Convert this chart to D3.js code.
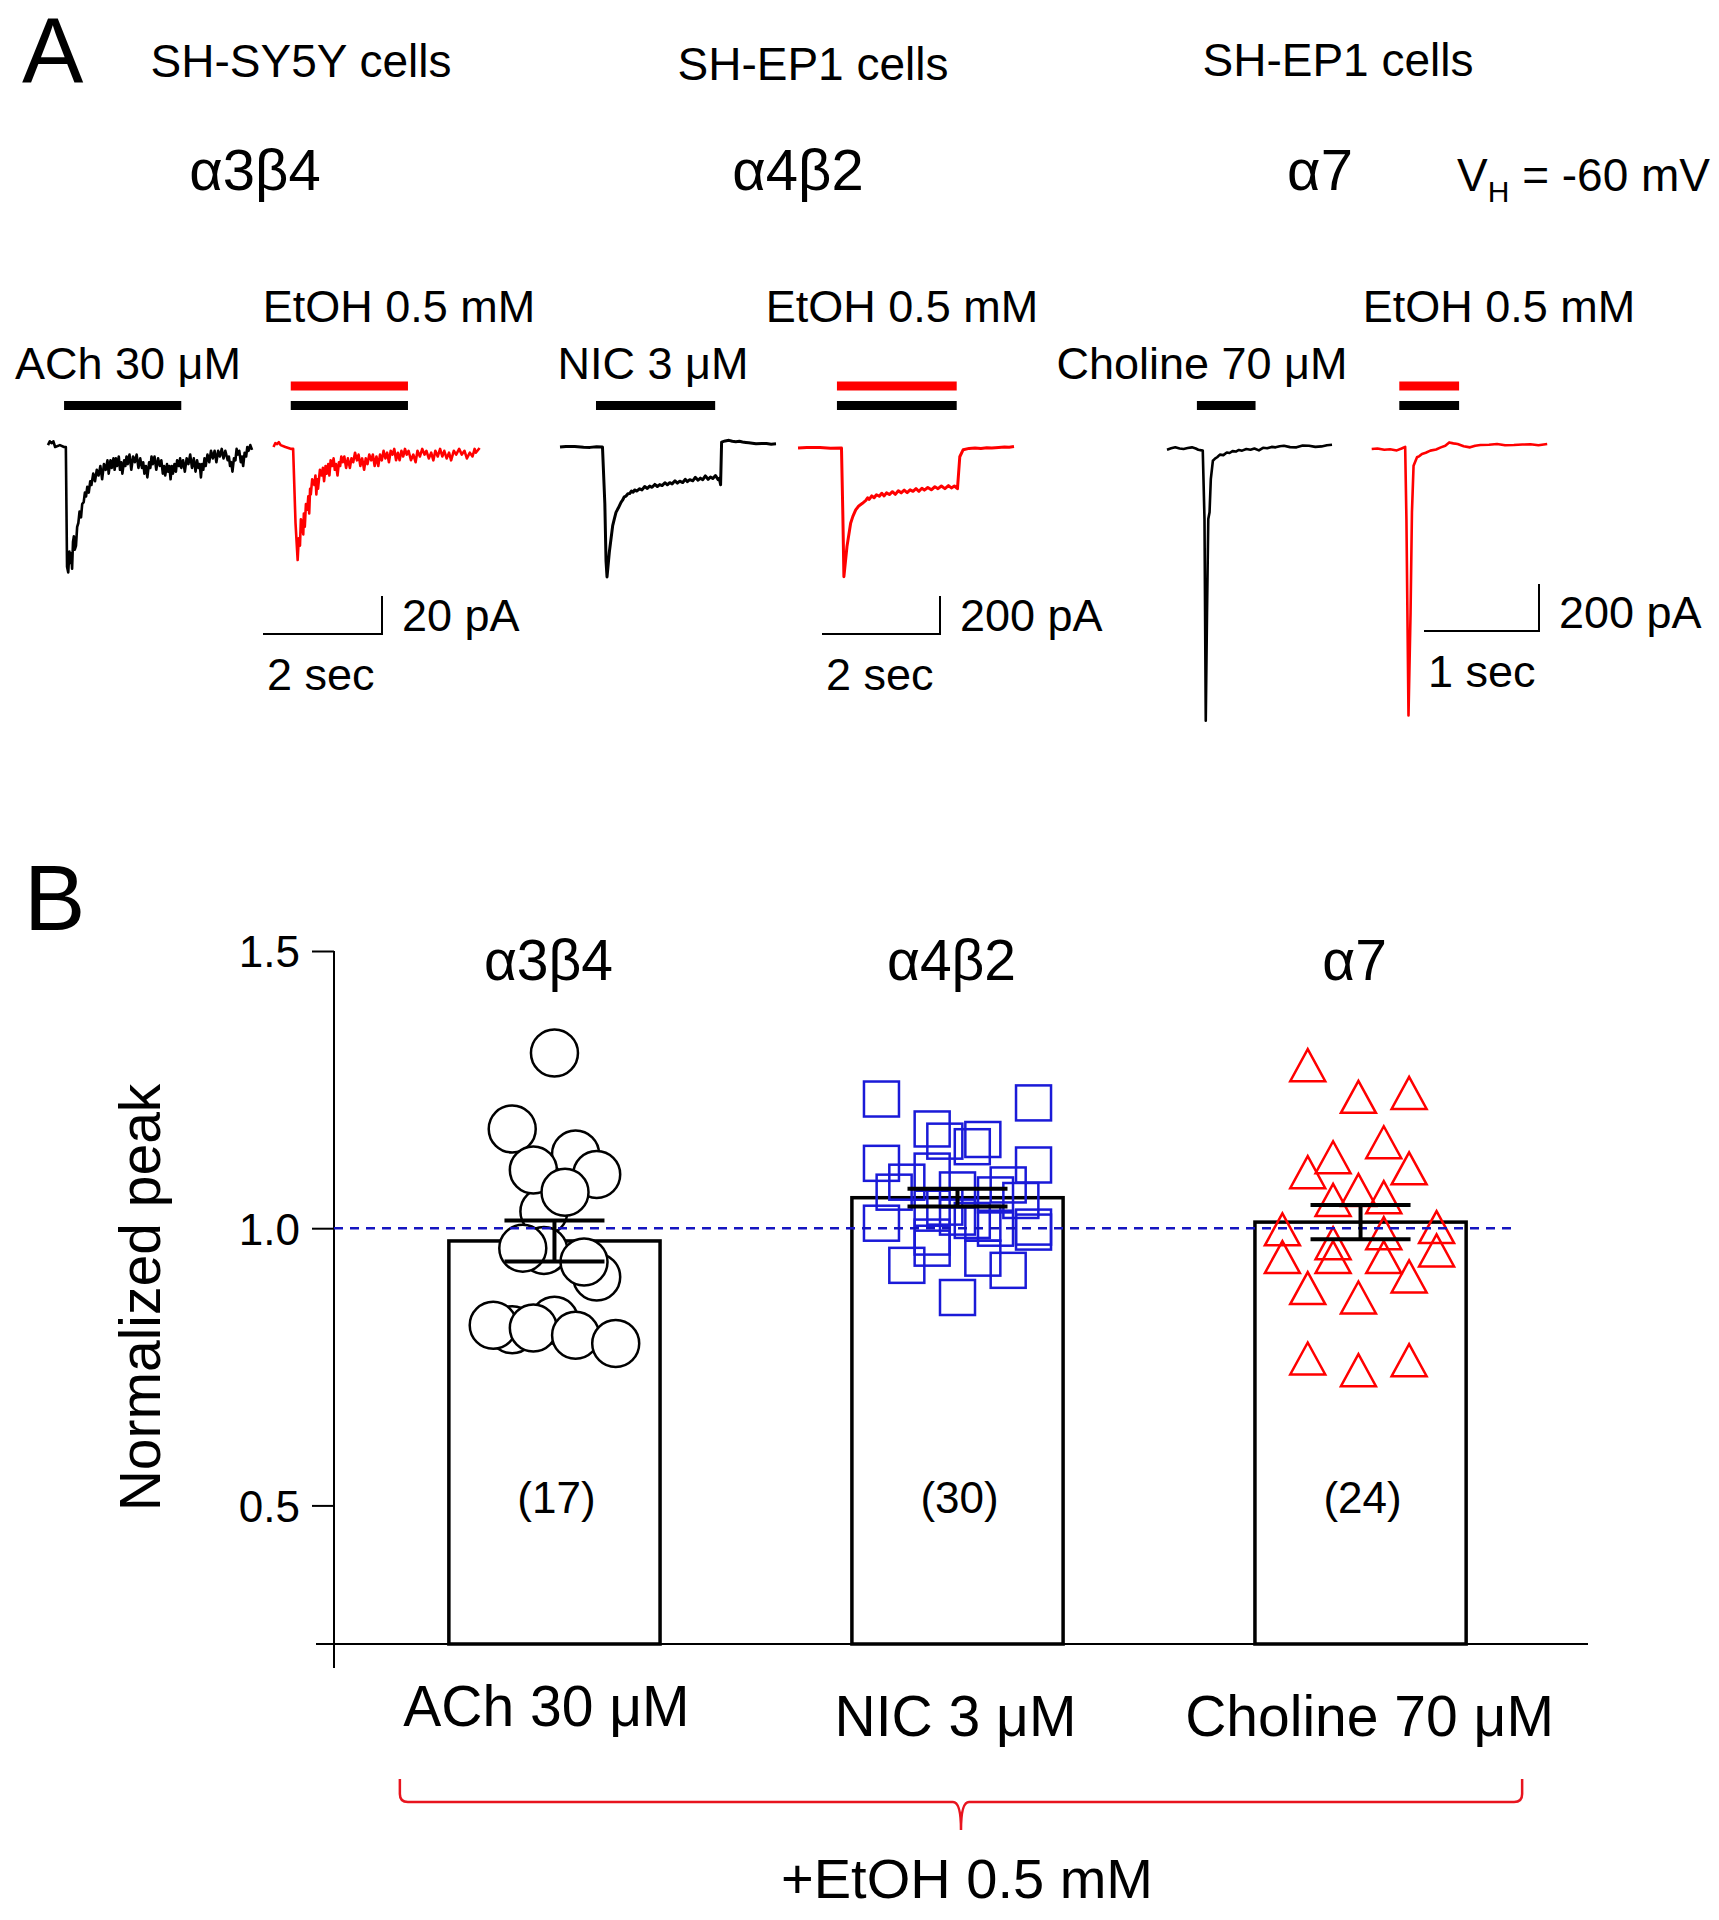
<!DOCTYPE html>
<html><head><meta charset="utf-8">
<script src="https://cdn.jsdelivr.net/npm/d3@7"></script>
<style>
body{margin:0;background:#fff}
svg{display:block}
text{font-family:"Liberation Sans",Arial,Helvetica,sans-serif;fill:#000}
</style>
</head><body>
<svg id="chart" width="1719" height="1920"></svg>
<script>
// ================= DATA =================
const receptors = ["α3β4", "α4β2", "α7"];
const cellLines = ["SH-SY5Y cells", "SH-EP1 cells", "SH-EP1 cells"];
const agonists = ["ACh 30 μM", "NIC 3 μM", "Choline 70 μM"];
const ethanolLabel = "EtOH 0.5 mM";
const holdingPotential = -60; // mV
const scaleBarPA = [20, 200, 200];
const scaleBarSec = [2, 2, 1];

// Panel A traces: [time (s), current (pA)]
const traceAChCtrl = [[0,1],[0.03,3],[0.06,2],[0.09,3],[0.12,0],[0.2,1],[0.27,0],[0.30,0],[0.32,-63],[0.34,-66],[0.36,-55],[0.375,-61],[0.39,-56],[0.405,-64],[0.42,-50],[0.435,-47],[0.45,-54],[0.47,-52],[0.49,-42],[0.51,-40],[0.53,-34],[0.555,-37],[0.575,-30],[0.60,-29],[0.62,-24],[0.64,-26],[0.66,-21],[0.685,-24],[0.71,-18],[0.73,-20],[0.76,-14],[0.79,-18],[0.82,-12],[0.85,-15],[0.88,-10],[0.91,-17],[0.94,-9],[0.97,-12],[1.0,-7],[1.02,-14],[1.05,-7],[1.07,-11],[1.10,-6],[1.12,-12],[1.14,-6],[1.16,-10],[1.19,-5],[1.21,-12],[1.23,-8],[1.25,-14],[1.28,-7],[1.30,-10],[1.32,-5],[1.34,-9],[1.37,-4],[1.40,-12],[1.43,-5],[1.46,-8],[1.49,-4],[1.52,-11],[1.55,-6],[1.58,-11],[1.60,-8],[1.62,-14],[1.645,-10],[1.67,-16],[1.70,-8],[1.72,-11],[1.74,-5],[1.76,-9],[1.79,-5],[1.82,-12],[1.85,-6],[1.88,-10],[1.905,-7],[1.93,-14],[1.95,-10],[1.97,-15],[2.0,-9],[2.02,-13],[2.04,-10],[2.06,-17],[2.08,-10],[2.10,-14],[2.125,-9],[2.15,-13],[2.17,-7],[2.20,-10],[2.22,-6],[2.24,-11],[2.27,-7],[2.30,-13],[2.33,-6],[2.36,-9],[2.39,-4],[2.42,-11],[2.45,-6],[2.48,-13],[2.505,-7],[2.53,-11],[2.55,-9],[2.57,-16],[2.59,-9],[2.61,-12],[2.63,-6],[2.65,-10],[2.68,-4],[2.71,-8],[2.74,-2],[2.77,-6],[2.80,-2],[2.83,-8],[2.86,-2],[2.89,-5],[2.92,-1],[2.95,-6],[2.98,-2],[3.02,-7],[3.04,-5],[3.06,-10],[3.08,-8],[3.10,-13],[3.125,-6],[3.15,-7],[3.17,-1],[3.19,-4],[3.215,-2],[3.24,-8],[3.26,-5],[3.28,-10],[3.305,-3],[3.33,-5],[3.35,0],[3.37,-2],[3.40,1],[3.43,-1.5]];
const traceAChEtOH = [[0,0],[0.03,2],[0.06,1.5],[0.09,2.5],[0.12,1],[0.2,0],[0.30,-1],[0.33,-1],[0.37,-40],[0.406,-59.5],[0.425,-48],[0.445,-52],[0.46,-38],[0.479,-40],[0.50,-46],[0.51,-35],[0.526,-42],[0.545,-30],[0.568,-33],[0.585,-26],[0.60,-35],[0.615,-22],[0.627,-25],[0.65,-17],[0.687,-20],[0.705,-15],[0.72,-25],[0.735,-17],[0.748,-22],[0.78,-12],[0.807,-15],[0.83,-11],[0.85,-18],[0.875,-10],[0.896,-14],[0.92,-9],[0.94,-15],[0.96,-7],[0.985,-10],[1.01,-6],[1.03,-12],[1.05,-9],[1.076,-15],[1.10,-8],[1.12,-10],[1.14,-5],[1.165,-8],[1.19,-5],[1.22,-11],[1.25,-6],[1.284,-11],[1.31,-6],[1.34,-8],[1.37,-3],[1.403,-7],[1.43,-4],[1.46,-10],[1.49,-6],[1.523,-12],[1.55,-6],[1.58,-9],[1.61,-4],[1.642,-7],[1.67,-4],[1.70,-10],[1.73,-5],[1.761,-10],[1.79,-4],[1.82,-7],[1.85,-2],[1.881,-6],[1.91,-3],[1.94,-8],[1.97,-2],[2.0,-4],[2.03,-1],[2.06,-7],[2.09,-3],[2.119,-7],[2.15,-2],[2.18,-5],[2.21,-1],[2.239,-4],[2.27,-2],[2.31,-7],[2.35,-4],[2.388,-8],[2.42,-2],[2.46,-5],[2.50,-1],[2.538,-4],[2.57,-2],[2.61,-6],[2.65,-3],[2.687,-7],[2.72,-2],[2.76,-5],[2.80,-1],[2.837,-5],[2.87,-2],[2.91,-6],[2.95,-3],[2.985,-7],[3.03,-2],[3.07,-4],[3.12,-1],[3.165,-4],[3.21,-2],[3.25,-6],[3.30,-3],[3.345,-5],[3.38,-1],[3.40,-3],[3.464,-0.5]];
const traceNICCtrl = [[0,0],[0.1,3],[0.25,2],[0.4,-1],[0.51,-2],[0.62,1],[0.72,0],[0.76,-300],[0.78,-600],[0.797,-684],[0.836,-554],[0.893,-414],[0.92,-380],[0.949,-344],[0.99,-320],[1.034,-291],[1.06,-280],[1.09,-262],[1.12,-258],[1.151,-246],[1.18,-245],[1.21,-232],[1.24,-238],[1.264,-226],[1.3,-232],[1.35,-220],[1.39,-226],[1.436,-208],[1.48,-218],[1.52,-206],[1.56,-212],[1.607,-197],[1.65,-208],[1.69,-198],[1.73,-203],[1.778,-188],[1.82,-199],[1.86,-188],[1.9,-194],[1.949,-178],[1.99,-190],[2.03,-180],[2.08,-187],[2.122,-170],[2.16,-182],[2.2,-172],[2.25,-178],[2.293,-160],[2.34,-175],[2.38,-164],[2.42,-172],[2.464,-152],[2.51,-170],[2.55,-158],[2.59,-166],[2.636,-150],[2.68,-172],[2.70,-165],[2.722,-199],[2.739,26],[2.80,32],[2.864,35],[2.92,30],[2.98,28],[3.04,30],[3.093,26],[3.15,24],[3.2,22],[3.26,20],[3.322,17],[3.42,19],[3.5,18],[3.58,15],[3.661,17]];
const traceNICEtOH = [[0,0],[0.15,3],[0.373,2],[0.55,-1],[0.737,0],[0.76,-350],[0.778,-677],[0.83,-519],[0.892,-396],[0.93,-360],[0.978,-326],[1.03,-305],[1.092,-291],[1.15,-276],[1.18,-262],[1.207,-270],[1.25,-252],[1.29,-262],[1.33,-246],[1.378,-254],[1.42,-238],[1.46,-252],[1.5,-236],[1.549,-245],[1.6,-230],[1.65,-244],[1.7,-225],[1.749,-236],[1.8,-222],[1.85,-235],[1.9,-220],[1.949,-228],[2.0,-214],[2.05,-228],[2.1,-212],[2.142,-222],[2.2,-208],[2.26,-220],[2.32,-204],[2.373,-214],[2.43,-200],[2.49,-214],[2.55,-198],[2.6,-210],[2.65,-200],[2.703,-214],[2.742,-46],[2.8,-9],[2.9,-2],[3.0,0],[3.1,-3],[3.2,1],[3.285,0],[3.4,3],[3.5,5],[3.58,4],[3.661,8]];
const traceChoCtrl = [[0,-3],[0.036,3],[0.072,7],[0.11,2],[0.144,0],[0.18,4],[0.217,7],[0.25,2],[0.272,-3],[0.311,-7],[0.326,-298],[0.337,-1156],[0.348,-695],[0.359,-298],[0.370,-269],[0.381,-128],[0.399,-50],[0.42,-40],[0.436,-35],[0.46,-24],[0.49,-26],[0.52,-15],[0.544,-17],[0.57,-9],[0.599,-11],[0.625,-4],[0.653,-7],[0.69,0],[0.726,-3],[0.76,2],[0.799,-6],[0.835,5],[0.871,3],[0.91,9],[0.944,7],[0.98,12],[1.017,14],[1.07,8],[1.126,7],[1.18,15],[1.235,14],[1.29,9],[1.344,11],[1.39,16],[1.435,18]];
const traceChoEtOH = [[0,0],[0.05,2],[0.11,-3],[0.16,-1],[0.218,-6],[0.26,2],[0.291,9],[0.302,-298],[0.32,-1134],[0.338,-695],[0.35,-269],[0.364,-71],[0.394,-35],[0.415,-30],[0.437,-21],[0.47,-16],[0.51,-7],[0.56,-2],[0.601,7],[0.64,14],[0.674,28],[0.71,24],[0.747,21],[0.80,12],[0.855,7],[0.9,14],[0.945,17],[1.02,18],[1.09,21],[1.16,16],[1.236,17],[1.31,19],[1.38,20],[1.45,16],[1.526,21]];
// drug application periods (s)
const appAChCtrl = [0.27, 2.24];
const appAChEtOH = [0.29, 2.26];
const appNICCtrl = [0.61, 2.63];
const appNICEtOH = [0.66, 2.69];
const appChoCtrl = [0.26, 0.77];
const appChoEtOH = [0.24, 0.76];

// Panel B
const groupN = [17, 30, 24];
const meanPeak = [0.977, 1.055, 1.011];
const semPeak = [0.037, 0.016, 0.031];
const yTickValues = [0.5, 1.0, 1.5];
const yLabel = "Normalized peak";
const bracketLabel = "+EtOH 0.5 mM";
const achPeaks = [1.030,1.179,1.134,1.097,1.105,1.065,0.912,0.960,0.939,0.964,0.817,0.834,0.825,0.820,0.807,0.792,1.316];
const achJitter = [-0.05,-0.20,0.10,0.20,-0.10,0.05,0.20,-0.05,0.14,-0.15,-0.20,0,-0.29,-0.10,0.10,0.29,0];
const nicPeaks = [1.233,1.226,1.179,1.157,1.147,1.160,1.117,1.114,1.103,1.083,1.065,1.069,1.078,1.050,1.009,1.002,1.036,0.984,1.038,1.014,1.009,0.946,0.933,0.964,0.924,0.875,0.993,1.020,1.060,1.000];
const nicJitter = [-0.36,0.36,-0.12,-0.06,0.07,0.12,-0.36,0.36,-0.12,-0.24,-0.30,0,0.24,0.30,-0.36,0.36,-0.12,-0.12,-0.06,0.07,0.12,0.12,-0.24,-0.12,0.24,0,0.36,0,0.18,0.18];
const choPeaks = [1.294,1.237,1.244,1.155,1.128,1.101,1.108,1.069,1.056,1.051,0.998,1.002,0.991,0.973,0.948,0.948,0.948,0.960,0.913,0.892,0.875,0.765,0.744,0.762];
const choJitter = [-0.25,-0.01,0.23,0.11,-0.13,-0.25,0.23,-0.01,0.11,-0.13,-0.37,0.36,0.11,-0.13,-0.13,-0.37,0.11,0.36,0.23,-0.25,-0.01,-0.25,-0.01,0.23];

// ================= DRAW =================
const svg = d3.select("#chart");
const RED = "#ff0000", BLUE = "#1a1ad8", BLACK = "#000";

// ---------- Panel A ----------
svg.append("text").attr("x", 22).attr("y", 83).attr("font-size", 92).text("A");
const cellX = [301, 813, 1338], cellY = [77, 80, 76];
cellLines.forEach((c, i) => svg.append("text").attr("x", cellX[i]).attr("y", cellY[i])
  .attr("text-anchor", "middle").attr("font-size", 46).text(c));
const recX = [255, 798, 1320];
receptors.forEach((r, i) => svg.append("text").attr("x", recX[i]).attr("y", 190)
  .attr("text-anchor", "middle").attr("font-size", 58).text(r));
const vh = svg.append("text").attr("x", 1457).attr("y", 191).attr("font-size", 46);
vh.append("tspan").text("V");
vh.append("tspan").attr("font-size", 30).attr("dy", 11).text("H");
vh.append("tspan").attr("dy", -11).text(" = " + holdingPotential + " mV");

const etX = [399, 902, 1499];
etX.forEach(x => svg.append("text").attr("x", x).attr("y", 322).attr("text-anchor", "middle")
  .attr("font-size", 45).text(ethanolLabel));
const agX = [128, 653, 1202];
agonists.forEach((a, i) => svg.append("text").attr("x", agX[i]).attr("y", 379)
  .attr("text-anchor", "middle").attr("font-size", 45).text(a));

// pair layout
const pairs = [
  {pxSec: 59.5, pxPA: 1.9, sw: 2.6, traces: [
    {data: traceAChCtrl, app: appAChCtrl, x0: 48, y0: 447, color: BLACK, etoh: false},
    {data: traceAChEtOH, app: appAChEtOH, x0: 273.5, y0: 447, color: RED, etoh: true}],
   bar: {cx: 382, cy: 634}},
  {pxSec: 59, pxPA: 0.19, sw: 3, traces: [
    {data: traceNICCtrl, app: appNICCtrl, x0: 560, y0: 447, color: BLACK, etoh: false},
    {data: traceNICEtOH, app: appNICEtOH, x0: 798, y0: 448, color: RED, etoh: true}],
   bar: {cx: 940, cy: 634}},
  {pxSec: 115, pxPA: 0.235, sw: 2.6, traces: [
    {data: traceChoCtrl, app: appChoCtrl, x0: 1167, y0: 449, color: BLACK, etoh: false},
    {data: traceChoEtOH, app: appChoEtOH, x0: 1371.7, y0: 449, color: RED, etoh: true}],
   bar: {cx: 1539, cy: 631}}
];

pairs.forEach((p, pi) => {
  p.traces.forEach(tr => {
    const tmax = d3.max(tr.data, d => d[0]);
    const xs = d3.scaleLinear().domain([0, tmax]).range([tr.x0, tr.x0 + tmax * p.pxSec]);
    const ys = d3.scaleLinear().domain([0, -1000]).range([tr.y0, tr.y0 + 1000 * p.pxPA]);
    svg.append("path").datum(tr.data)
      .attr("d", d3.line().x(d => xs(d[0])).y(d => ys(d[1])))
      .attr("fill", "none").attr("stroke", tr.color).attr("stroke-width", p.sw)
      .attr("stroke-linejoin", "round");
    // application bars
    svg.append("line").attr("x1", xs(tr.app[0])).attr("x2", xs(tr.app[1]))
      .attr("y1", 405.5).attr("y2", 405.5).attr("stroke", BLACK).attr("stroke-width", 9);
    if (tr.etoh) {
      svg.append("line").attr("x1", xs(tr.app[0])).attr("x2", xs(tr.app[1]))
        .attr("y1", 386).attr("y2", 386).attr("stroke", RED).attr("stroke-width", 9);
    }
  });
  // scale bar
  const b = p.bar;
  const hx = scaleBarSec[pi] * p.pxSec, vy = scaleBarPA[pi] * p.pxPA;
  svg.append("path").attr("d", `M${b.cx - hx},${b.cy}H${b.cx}V${b.cy - vy}`)
    .attr("fill", "none").attr("stroke", BLACK).attr("stroke-width", 2);
  svg.append("text").attr("x", b.cx + 20).attr("y", b.cy - 3).attr("font-size", 45)
    .text(scaleBarPA[pi] + " pA");
  svg.append("text").attr("x", b.cx - hx + 4).attr("y", b.cy + 56).attr("font-size", 45)
    .text(scaleBarSec[pi] + " sec");
});

// ---------- Panel B ----------
svg.append("text").attr("x", 24).attr("y", 930).attr("font-size", 92).text("B");

const y = d3.scaleLinear().domain([0.25, 1.5]).range([1644, 951]);
const x = d3.scaleBand().domain(agonists).range([334, 1581]).paddingInner(0.476).paddingOuter(0.285);
const bw = x.bandwidth();

// y axis
const yAxis = d3.axisLeft(y).tickValues(yTickValues).tickFormat(d3.format(".1f"))
  .tickSize(22).tickSizeOuter(0).tickPadding(12);
const gy = svg.append("g").attr("transform", "translate(334,0)").call(yAxis);
gy.select(".domain").remove();
gy.selectAll(".tick line").attr("stroke", BLACK).attr("stroke-width", 2);
gy.selectAll(".tick text").attr("font-size", 44).attr("font-family", '"Liberation Sans",Arial,sans-serif')
  .attr("dy", "0.36em");
svg.append("line").attr("x1", 334).attr("x2", 334).attr("y1", y(1.5)).attr("y2", y(0.25) + 24)
  .attr("stroke", BLACK).attr("stroke-width", 2);
// x axis
svg.append("line").attr("x1", 316).attr("x2", 1588).attr("y1", y(0.25)).attr("y2", y(0.25))
  .attr("stroke", BLACK).attr("stroke-width", 2);

svg.append("text").attr("transform", `translate(160,${(y(1.5) + y(0.25)) / 2})rotate(-90)`)
  .attr("text-anchor", "middle").attr("font-size", 57).text(yLabel);

// bars
svg.selectAll("rect.bar").data(agonists).join("rect").attr("class", "bar")
  .attr("x", d => x(d)).attr("width", bw)
  .attr("y", (d, i) => y(meanPeak[i])).attr("height", (d, i) => y(0.25) - y(meanPeak[i]))
  .attr("fill", "#fff").attr("stroke", BLACK).attr("stroke-width", 3.5);

// scatter
const cx = i => x(agonists[i]) + bw / 2;
svg.append("g").selectAll("circle").data(achPeaks).join("circle")
  .attr("cx", (d, j) => cx(0) + achJitter[j] * bw).attr("cy", d => y(d)).attr("r", 23.5)
  .attr("fill", "#fff").attr("stroke", BLACK).attr("stroke-width", 2.5);
const sq = 35;
svg.append("g").selectAll("rect").data(nicPeaks).join("rect")
  .attr("x", (d, j) => cx(1) + nicJitter[j] * bw - sq / 2).attr("y", d => y(d) - sq / 2)
  .attr("width", sq).attr("height", sq)
  .attr("fill", "none").attr("stroke", BLUE).attr("stroke-width", 2.5);
const tri = "M0,-16L17.5,16L-17.5,16Z";
svg.append("g").selectAll("path").data(choPeaks).join("path")
  .attr("transform", (d, j) => `translate(${cx(2) + choJitter[j] * bw},${y(d)})`)
  .attr("d", tri).attr("fill", "none").attr("stroke", RED).attr("stroke-width", 2.5);

// reference line at 1.0
svg.append("line").attr("x1", 334).attr("x2", 1518).attr("y1", y(1)).attr("y2", y(1))
  .attr("stroke", "#1515c0").attr("stroke-width", 2.5).attr("stroke-dasharray", "9,7");

// error bars
agonists.forEach((a, i) => {
  const c = cx(i), hi = y(meanPeak[i] + semPeak[i]), lo = y(meanPeak[i] - semPeak[i]);
  const g = svg.append("g").attr("stroke", BLACK).attr("stroke-width", 4);
  g.append("line").attr("x1", c).attr("x2", c).attr("y1", hi).attr("y2", lo);
  g.append("line").attr("x1", c - 50).attr("x2", c + 50).attr("y1", hi).attr("y2", hi);
  g.append("line").attr("x1", c - 50).attr("x2", c + 50).attr("y1", lo).attr("y2", lo);
});

// group labels
receptors.forEach((r, i) => svg.append("text").attr("x", cx(i) - 6).attr("y", 980)
  .attr("text-anchor", "middle").attr("font-size", 57).text(r));
groupN.forEach((n, i) => svg.append("text").attr("x", cx(i) + 2).attr("y", 1513)
  .attr("text-anchor", "middle").attr("font-size", 44).text("(" + n + ")"));
const xLabelShift = [-8, -2, 9];
agonists.forEach((a, i) => svg.append("text").attr("x", cx(i) + xLabelShift[i]).attr("y", i === 0 ? 1726 : 1736)
  .attr("text-anchor", "middle").attr("font-size", 57).text(a));

// bracket
const bl = x(agonists[0]) - 49, br = x(agonists[2]) + bw + 56, bm = (bl + br) / 2;
svg.append("path")
  .attr("d", `M${bl},1779V1794Q${bl},1802 ${bl + 8},1802H${bm - 8}Q${bm},1802 ${bm},1830Q${bm},1802 ${bm + 8},1802H${br - 8}Q${br},1802 ${br},1794V1779`)
  .attr("fill", "none").attr("stroke", "#e8141e").attr("stroke-width", 2.5);
svg.append("text").attr("x", bm + 6).attr("y", 1898).attr("text-anchor", "middle")
  .attr("font-size", 56).text(bracketLabel);
</script>
</body></html>
